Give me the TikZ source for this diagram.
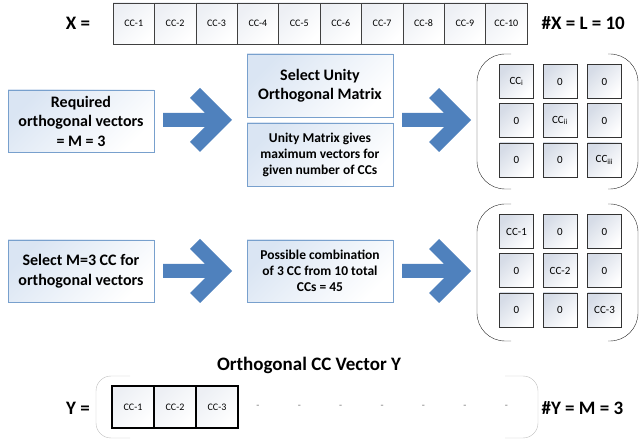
\documentclass[tikz,border=0pt]{standalone}
\usepackage{fontspec}
\setmainfont{Carlito}

\definecolor{boxline}{RGB}{120,160,205}
\definecolor{boxfill}{RGB}{218,229,243}
\definecolor{arrowblue}{RGB}{79,129,189}
\definecolor{cellfill}{RGB}{214,220,231}
\definecolor{brackgray}{RGB}{190,190,190}

\tikzset{
    txtbox/.style = {draw = boxline, top color = boxfill, bottom color = white, shading angle = 45,
        minimum width = 146pt, minimum height = 62pt, align = center, inner sep = 2pt,
        font = \bfseries\fontsize{16}{19.5}\selectfont},
    smalltxt/.style = {txtbox, font = \bfseries\fontsize{13.5}{16}\selectfont},
    ccbox/.style = {draw = black!75, top color = cellfill!45, bottom color = white, shading angle = 45,
        minimum width = 41.4pt, minimum height = 41pt, inner sep = 0pt, font = \fontsize{10}{12}\selectfont},
    ybox/.style = {ccbox, draw = black, line width = 1.4pt, minimum width = 42pt, minimum height = 42pt},
    cell/.style = {draw = black!80, top color = cellfill, bottom color = white, shading angle = 45,
        minimum size = 34pt, inner sep = 0pt, font = \fontsize{11}{13}\selectfont},
    bigtext/.style = {font = \bfseries\fontsize{19}{23}\selectfont},
    dotmark/.style = {text = black!55, font = \fontsize{10}{12}\selectfont},
    matbrack/.style = {draw = black!85, thin, rounded corners = 28pt},
    vecbrack/.style = {draw = brackgray, thin, rounded corners = 15pt},
    bigarrow/.pic = {
        \fill[arrowblue] (-34.5, -7) -- (7.5, -7) -- (-7.5, -22) -- (2.5, -32) -- (34.5, 0)
            -- (2.5, 32) -- (-7.5, 22) -- (7.5, 7) -- (-34.5, 7) -- cycle;
    }
}

\begin{document}
\begin{tikzpicture}[x = 1pt, y = -1pt]

    \useasboundingbox (0, 0) rectangle (640, 443);

    % vector X
    \node[bigtext] (xlab) at (78, 23) {X =};
    \foreach \i in {1, ..., 10} {
        \node[ccbox] (x\i) at ({113 + 41.4*(\i - 0.5)}, 23.5) {CC-\i};
    }
    \node[bigtext, anchor = west] (xnum) at (538, 23) {\#X = L = 10};

    % first row
    \node[txtbox] (req) at (81, 121) {Required\\orthogonal vectors\\= M = 3};
    \node[txtbox, minimum height = 63pt] (selu) at (320, 85.5) {Select Unity\\Orthogonal Matrix};
    \node[smalltxt, minimum height = 63pt] (unim) at (320, 154.5) {Unity Matrix gives\\maximum vectors for\\given number of CCs};

    \coordinate (a1) at (197.5, 120);
    \coordinate (a2) at (436.5, 120);
    \pic at (a1) {bigarrow};
    \pic at (a2) {bigarrow};

    \node[cell] (p11) at (516.5, 81.5) {CC\textsubscript{i}};
    \node[cell] (p12) at (560, 81.5) {0};
    \node[cell] (p13) at (604.5, 81.5) {0};
    \node[cell] (p21) at (516.5, 120.5) {0};
    \node[cell] (p22) at (560, 120.5) {CC\textsubscript{ii}};
    \node[cell] (p23) at (604.5, 120.5) {0};
    \node[cell] (p31) at (516.5, 160) {0};
    \node[cell] (p32) at (560, 160) {0};
    \node[cell] (p33) at (604.5, 160) {CC\textsubscript{iii}};

    \draw[matbrack] (511, 54) -- (477, 54) -- (477, 189) -- (511, 189);
    \draw[matbrack] (608, 54) -- (638, 54) -- (638, 189) -- (608, 189);

    % second row
    \node[txtbox] (selm) at (81, 271) {Select M=3 CC for\\orthogonal vectors};
    \node[smalltxt] (poss) at (320, 271) {Possible combination\\of 3 CC from 10 total\\CCs = 45};

    \coordinate (a3) at (197.5, 271);
    \coordinate (a4) at (436.5, 271);
    \pic at (a3) {bigarrow};
    \pic at (a4) {bigarrow};

    \node[cell] (q11) at (516.5, 231.5) {CC-1};
    \node[cell] (q12) at (560, 231.5) {0};
    \node[cell] (q13) at (604.5, 231.5) {0};
    \node[cell] (q21) at (516.5, 270.5) {0};
    \node[cell] (q22) at (560, 270.5) {CC-2};
    \node[cell] (q23) at (604.5, 270.5) {0};
    \node[cell] (q31) at (516.5, 310) {0};
    \node[cell] (q32) at (560, 310) {0};
    \node[cell] (q33) at (604.5, 310) {CC-3};

    \draw[matbrack] (511, 204) -- (477, 204) -- (477, 341) -- (511, 341);
    \draw[matbrack] (608, 204) -- (638, 204) -- (638, 341) -- (608, 341);

    % vector Y
    \node[bigtext] (ytitle) at (309, 365) {Orthogonal CC Vector Y};
    \node[bigtext] (ylab) at (78, 408) {Y =};
    \node[ybox] (y1) at (133, 407) {CC-1};
    \node[ybox] (y2) at (175, 407) {CC-2};
    \node[ybox] (y3) at (217, 407) {CC-3};
    \foreach \i in {4, ..., 10} {
        \node[dotmark] (d\i) at ({113 + 41.4*(\i - 0.5)}, 407) {-};
    }
    \node[bigtext, anchor = west] (ynum) at (538, 408) {\#Y = M = 3};

    \draw[vecbrack] (130, 376) -- (96, 376) -- (96, 438) -- (130, 438);
    \draw[vecbrack] (505, 376) -- (538, 376) -- (538, 438) -- (505, 438);

\end{tikzpicture}
\end{document}
